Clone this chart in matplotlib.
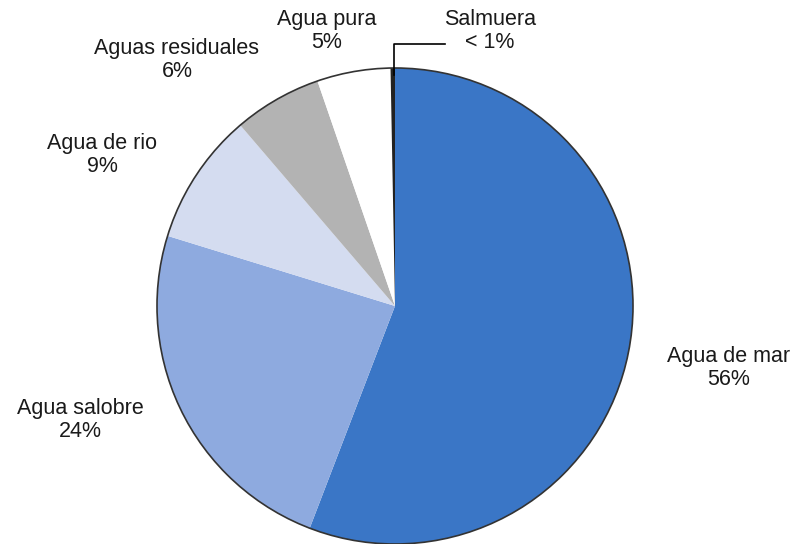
import matplotlib.pyplot as plt

plt.rcParams['font.family'] = ['Liberation Sans', 'DejaVu Sans']

# slices, clockwise from 12 o'clock
labels = ['Agua de mar', 'Agua salobre', 'Agua de rio', 'Aguas residuales', 'Agua pura', 'Salmuera']
values = [56, 24, 9, 6, 5, 0.3]
pct_text = ['56%', '24%', '9%', '6%', '5%', '< 1%']
colors = ['#3a76c6', '#8eaadf', '#d4dcf0', '#b3b3b3', '#ffffff', '#222222']

# label centres in pixel coords (top-left origin)
label_pos = [(729, 368), (80, 420), (102, 155), (177, 60), (327, 31), (490, 31)]

W, H = 800, 544
fig = plt.figure(figsize=(W / 100, H / 100), dpi=100)
ax = fig.add_axes([0, 0, 1, 1])

# y axis is flipped below, so counterclockwise from -90 reads clockwise from the top
cx, cy, r = 395, 306, 238
ax.pie(values, colors=colors, startangle=-90, counterclock=True,
       center=(cx, cy), radius=r, frame=True,
       wedgeprops=dict(linewidth=0))
ax.set_xlim(0, W)
ax.set_ylim(H, 0)
ax.set_aspect('equal')
ax.set_axis_off()

# outer rim
circ = plt.Circle((cx, cy), r, fill=False, edgecolor='#333333', linewidth=1.2)
ax.add_patch(circ)

for name, pct, (x, y) in zip(labels, pct_text, label_pos):
    ax.text(x, y, name + '\n' + pct, ha='center', va='center',
            fontsize=15.5, color='#1a1a1a', linespacing=1.15)

# leader for Salmuera
ax.plot([445, 394, 394], [44, 44, 75], color='black', linewidth=1.2)

fig.savefig('out.png', dpi=100)
